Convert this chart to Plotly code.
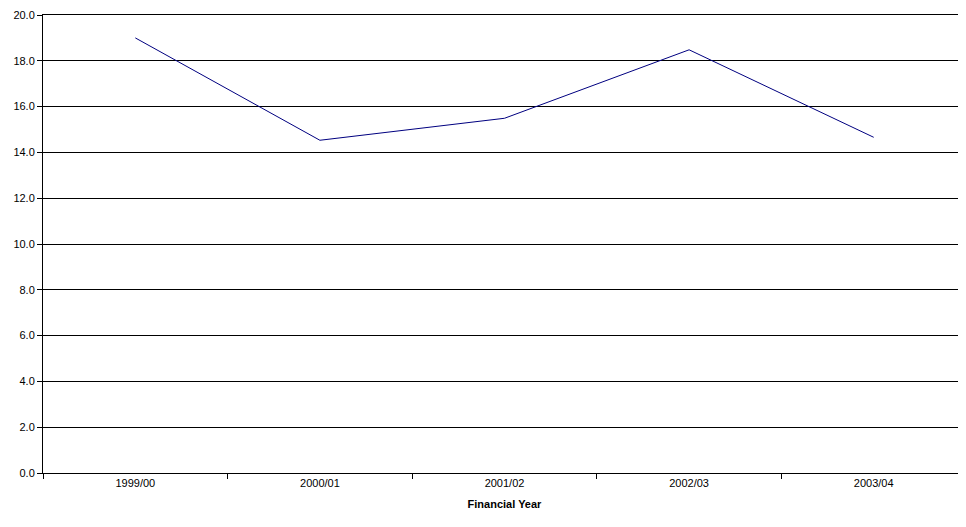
import plotly.graph_objects as go

years = ["1999/00", "2000/01", "2001/02", "2002/03", "2003/04"]
values = [19.0, 14.53, 15.49, 18.48, 14.66]
y_ticks = [0, 2, 4, 6, 8, 10, 12, 14, 16, 18, 20]

fig = go.Figure(go.Scatter(x=years, y=values, mode="lines",
                           line=dict(color="#000080", width=1)))

fig.update_layout(
    width=958, height=519, showlegend=False,
    margin=dict(l=35, r=0, t=7, b=54, autoexpand=False),
    plot_bgcolor="white", paper_bgcolor="white",
    font=dict(family="Liberation Sans, Arial", size=11, color="black"),
)
# mirror=True on x gives the top border line at 20.0
fig.update_xaxes(type="category", range=[-0.5, 4.5], tickson="boundaries",
                 ticks="outside", ticklen=5, tickcolor="black", automargin=False,
                 showline=True, mirror=True, linecolor="black", linewidth=1, showgrid=False,
                 title=dict(text="<b>Financial Year</b>", font=dict(size=11), standoff=12))
fig.update_yaxes(range=[0, 20], tickvals=y_ticks,
                 ticktext=[f"{v:.1f}" for v in y_ticks], automargin=False,
                 ticks="outside", ticklen=5, tickcolor="black",
                 showline=True, linecolor="black", linewidth=1,
                 showgrid=True, gridcolor="black", gridwidth=1, zeroline=False)

fig.write_html("out.html")
